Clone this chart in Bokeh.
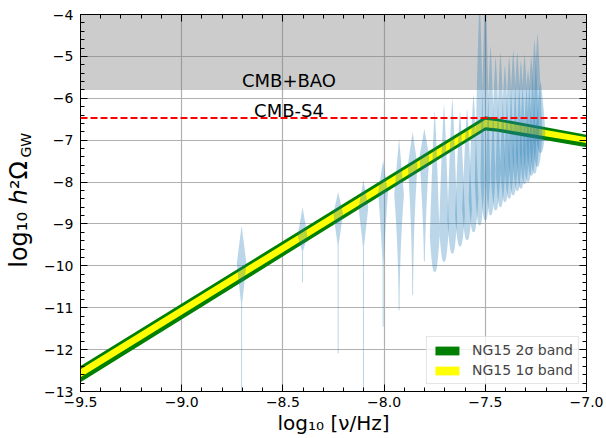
import numpy as np
from bokeh.plotting import figure
from bokeh.models import (Label, Legend, LegendItem, LinearAxis, SingleIntervalTicker, FixedTicker,
                          CustomJSTickFormatter, Range1d, Span, Title)
from bokeh.embed import file_html
from bokeh.resources import INLINE

# ---------------- data ----------------
x_limits = [-9.5, -7.0]
y_limits = [-13.0, -4.0]

cmb_bao_limit = -5.8
cmb_s4_limit = -6.47

band_x = [-9.5, -7.5, -7.44, -7.0]
sig2_upper = [-12.39, -6.43, -6.48, -6.87]
sig2_lower = [-12.78, -6.77, -6.80, -7.17]
sig1_upper = [-12.47, -6.51, -6.55, -6.93]
sig1_lower = [-12.66, -6.69, -6.72, -7.07]

# NG15 free-spectrum violins (log10 f, and read-off extents)
vio_x = [-8.704, -8.403, -8.227, -8.102, -8.005, -7.926, -7.859, -7.801, -7.750, -7.704,
         -7.663, -7.625, -7.590, -7.558, -7.528, -7.500, -7.474, -7.449, -7.425, -7.403,
         -7.382, -7.362, -7.342, -7.324, -7.306, -7.289, -7.273, -7.257, -7.242, -7.227]
vio_top = [-9.04, -8.60, -8.24, -7.96, -7.48, -6.96, -6.80, -6.72, -6.30, -6.15,
           -6.00, -6.30, -6.25, -5.90, -3.60, -3.40, -4.75, -5.00, -4.90, -5.20,
           -5.00, -4.85, -4.90, -5.10, -4.95, -5.30, -5.00, -4.60, -4.45, -5.60]
vio_mode = [-9.95, -9.28, -8.75, -8.60, -8.25, -8.30, -7.60, -7.40, -9.30, -9.10,
            -8.90, -8.80, -8.65, -8.40, -8.00, -7.90, -7.90, -7.80, -7.70, -7.60,
            -7.50, -7.40, -7.30, -7.30, -7.20, -7.20, -7.10, -7.00, -6.90, -6.80]
vio_body = [-10.90, -9.65, -9.50, -9.55, -10.00, -11.07, -10.70, -9.90, -10.15, -9.91,
            -9.71, -9.54, -9.39, -9.20, -9.04, -8.92, -8.80, -8.68, -8.60, -8.48,
            -8.40, -8.32, -8.22, -8.16, -8.05, -8.00, -7.85, -7.80, -7.64, -7.30]
vio_bottom = [-13.00, -10.40, -12.10, -13.00, -11.46, -11.07, -10.70, -9.90, -10.15, -9.91,
              -9.71, -9.54, -9.39, -9.20, -9.04, -8.92, -8.80, -8.68, -8.60, -8.48,
              -8.40, -8.32, -8.22, -8.16, -8.05, -8.00, -7.85, -7.80, -7.64, -7.30]
vio_rise = [1.0, 1.0, 1.0, 1.0, 1.2, 2.0, 2.0, 1.5] + [0.5] * 22
vio_fall = [1.0, 1.0, 1.0, 1.0, 1.0, 1.0, 1.0, 1.0] + [0.8] * 22

# ---------------- style ----------------
FONT = "DejaVu Sans"
half_width = 0.024
tail_width = 0.0025
NBSP = "\u00a0"

p = figure(width=606, height=438,
           x_range=Range1d(*x_limits), y_range=Range1d(*y_limits),
           output_backend="svg", toolbar_location=None,
           min_border_left=80, min_border_right=20, min_border_top=14, min_border_bottom=47)
p.background_fill_color = "white"
p.border_fill_color = "white"
p.outline_line_color = "black"
p.outline_line_width = 1

xticker = SingleIntervalTicker(interval=0.5, num_minor_ticks=5)
yticker = SingleIntervalTicker(interval=1, num_minor_ticks=5)

p.xaxis.ticker = xticker
p.yaxis.ticker = yticker
p.xaxis.formatter = CustomJSTickFormatter(code="return (tick < -1e-9 ? '\u2212' : '') + Math.abs(tick).toFixed(1);")
p.yaxis.formatter = CustomJSTickFormatter(code="return (tick < -1e-9 ? '\u2212' : '') + Math.abs(tick).toFixed(0);")

for ax in [p.xaxis[0], p.yaxis[0]]:
    ax.major_tick_in = 7
    ax.major_tick_out = 0
    ax.minor_tick_in = 4
    ax.minor_tick_out = 0
    ax.major_tick_line_color = "black"
    ax.minor_tick_line_color = "black"
    ax.axis_line_color = "black"
    ax.major_label_text_font = FONT
    ax.major_label_text_font_size = "14px"
    ax.major_label_text_color = "black"
p.xaxis.major_label_standoff = 5
p.yaxis.major_label_standoff = 7

# x-axis label as a title panel below the axis
p.add_layout(Title(text="log₁₀ [ν/Hz]", align="center", vertical_align="middle",
                   standoff=0, text_font=FONT, text_font_size="20px",
                   text_font_style="normal", text_color="black"), "below")

# y-axis label built from label-only axes (subscript part nearer the frame)
def label_axis(text, size, standoff):
    ax = LinearAxis(ticker=FixedTicker(ticks=[]),
                    formatter=CustomJSTickFormatter(code="return '';"),
                    major_tick_in=0, major_tick_out=0, minor_tick_in=0, minor_tick_out=0,
                    major_label_standoff=0, major_label_text_font_size="0px",
                    axis_line_color=None, axis_label=text, axis_label_standoff=standoff,
                    axis_label_text_font=FONT, axis_label_text_font_size=size,
                    axis_label_text_font_style="normal", axis_label_text_color="black")
    p.add_layout(ax, "left")

label_axis(NBSP * 26 + "GW", "14px", 7)
label_axis("log₁₀ ℎ²Ω" + NBSP * 3, "24px", -18)

for loc, tk in [("right", yticker), ("above", xticker)]:
    ax = LinearAxis(ticker=tk, formatter=CustomJSTickFormatter(code="return '';"),
                    major_tick_in=7, major_tick_out=0, minor_tick_in=4, minor_tick_out=0,
                    major_label_standoff=0, major_label_text_font_size="0px",
                    axis_line_color="black", major_tick_line_color="black",
                    minor_tick_line_color="black")
    p.add_layout(ax, loc)

p.xgrid.ticker = xticker
p.ygrid.ticker = yticker
for g in [p.xgrid[0], p.ygrid[0]]:
    g.grid_line_color = "#b0b0b0"
    g.grid_line_width = 1.2

# CMB+BAO excluded region
p.varea(x=x_limits, y1=[cmb_bao_limit] * 2, y2=[y_limits[1]] * 2,
        fill_color="#808080", fill_alpha=0.4)

# NG15 bands
r2 = p.varea(x=band_x, y1=sig2_lower, y2=sig2_upper, fill_color="#008000", fill_alpha=1.0)
r1 = p.varea(x=band_x, y1=sig1_lower, y2=sig1_upper, fill_color="#ffff00", fill_alpha=1.0)

# violins
xs, ys = [], []
for x0, top, mode, body, bot, a, b in zip(vio_x, vio_top, vio_mode, vio_body, vio_bottom,
                                          vio_rise, vio_fall):
    yy = np.linspace(bot, top, 200)
    hw = np.empty_like(yy)
    for i, y in enumerate(yy):
        if y < body:
            hw[i] = tail_width
        elif y < mode:
            t = (y - body) / max(mode - body, 1e-6)
            hw[i] = tail_width + (half_width - tail_width) * t ** a
        else:
            s = (y - mode) / max(top - mode, 1e-6)
            hw[i] = half_width * (1 - s) ** b
    hw[0] = 0.0
    hw[-1] = 0.0
    xs.append(list(x0 + hw) + list(x0 - hw[::-1]))
    ys.append(list(yy) + list(yy[::-1]))
p.patches(xs, ys, fill_color="#1f77b4", fill_alpha=0.3, line_color=None)

# CMB-S4 line
p.add_layout(Span(location=cmb_s4_limit, dimension="width", line_color="red",
                  line_dash="7 3", line_width=2))

p.add_layout(Label(x=-8.47, y=-5.695, y_offset=5, text="CMB+BAO", text_align="center",
                   text_baseline="alphabetic", text_font=FONT, text_font_size="18px",
                   text_color="black"))
p.add_layout(Label(x=-8.47, y=-6.41, y_offset=5, text="CMB-S4", text_align="center",
                   text_baseline="alphabetic", text_font=FONT, text_font_size="18px",
                   text_color="black"))

legend = Legend(items=[LegendItem(label="NG15 2σ band", renderers=[r2]),
                       LegendItem(label="NG15 1σ band", renderers=[r1])],
                location="bottom_right", margin=7, padding=5, spacing=4,
                glyph_width=30, glyph_height=11, label_standoff=10, label_height=14,
                label_text_font=FONT, label_text_font_size="14px",
                border_line_color="#cccccc", border_line_width=1,
                background_fill_color="white", background_fill_alpha=0.8)
p.add_layout(legend)

open("out.html", "w", encoding="utf-8").write(file_html(p, INLINE))
